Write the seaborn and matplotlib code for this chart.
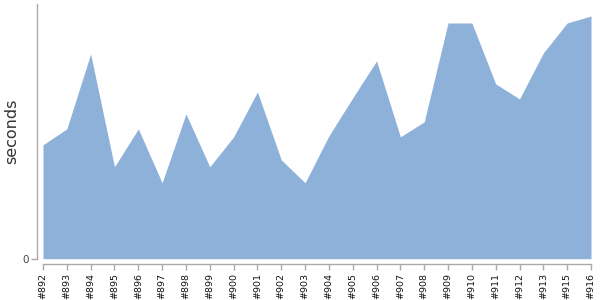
import matplotlib
matplotlib.use("Agg")
import matplotlib.pyplot as plt
import seaborn as sns
import pandas as pd
import numpy as np

builds = ["#892", "#893", "#894", "#895", "#896", "#897", "#898", "#899", "#900",
          "#901", "#902", "#903", "#904", "#905", "#906", "#907", "#908", "#909",
          "#910", "#911", "#912", "#913", "#915", "#916"]
seconds = [11.4, 13.0, 20.5, 9.2, 13.0, 7.6, 14.5, 9.2, 12.2, 16.7, 9.9, 7.6,
           12.3, 16.1, 19.8, 12.2, 13.7, 23.6, 23.6, 17.5, 16.0, 20.6, 23.6, 24.3]

df = pd.DataFrame({"build": builds, "seconds": seconds})
df["pos"] = np.arange(len(df))

sns.set_style("white")
fig = plt.figure(figsize=(6, 3), dpi=100)
ax = fig.add_axes([43/600, 41.3/300, 548/600, 254.7/300])

sns.lineplot(data=df, x="pos", y="seconds", ax=ax, color="#8EB1DA", linewidth=0)
ax.fill_between(df["pos"], 0, df["seconds"], color="#8EB1DA", linewidth=0)

ax.set_xlim(0, len(df) - 1)
ax.set_ylim(0, 25.5)
ax.set_xticks(df["pos"].tolist())
ax.set_xticklabels(df["build"].tolist())
ax.set_yticks([0])
ax.set_yticklabels(["0"])
ax.set_xlabel("")
ax.set_ylabel("seconds", fontsize=11.5, color="#333333")
ax.yaxis.set_label_coords(-0.044, 0.5)

for s in ["top", "right"]:
    ax.spines[s].set_visible(False)
ax.spines["left"].set_position(("outward", 4))
ax.spines["bottom"].set_position(("outward", 4))
for s in ["left", "bottom"]:
    ax.spines[s].set_color("#AAAAAA")
    ax.spines[s].set_linewidth(1)
ax.tick_params(axis="both", which="both", length=4, width=1, color="#AAAAAA", pad=2, bottom=True, left=True)
ax.tick_params(axis="x", labelrotation=90, labelsize=6.8, labelcolor="#111111")
ax.tick_params(axis="y", labelsize=7.5, labelcolor="#444444")

fig.savefig("out.png", dpi=100)
